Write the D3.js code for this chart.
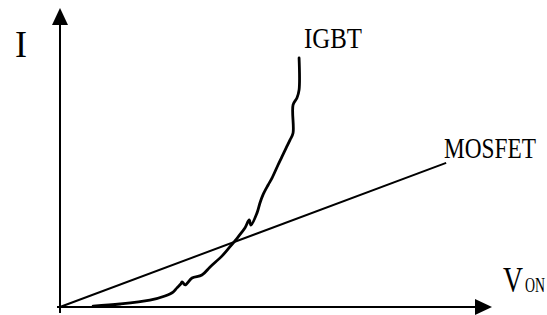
<!DOCTYPE html>
<html>
<head>
<meta charset="utf-8">
<script src="https://cdn.jsdelivr.net/npm/d3@7"></script>
<style>
  html, body { margin: 0; padding: 0; background: #fff; }
  svg { display: block; }
  text { font-family: "Liberation Serif", "DejaVu Serif", serif; fill: #000; }
</style>
</head>
<body>
<svg id="chart" width="547" height="315"></svg>
<script>
// data (arbitrary units)
var igbtV = [0.77, 1.40, 2.09, 2.44, 2.63, 2.72, 2.81, 2.84, 2.91, 3.07, 3.30, 3.49, 3.77, 3.95, 4.14, 4.30, 4.40, 4.44, 4.58, 4.65, 4.72, 4.84, 4.93, 5.07, 5.16, 5.26, 5.35, 5.42, 5.42, 5.51, 5.56, 5.56];
var igbtI = [0.03, 0.10, 0.23, 0.37, 0.50, 0.64, 0.77, 0.84, 0.74, 0.97, 1.07, 1.34, 1.71, 2.01, 2.34, 2.64, 2.91, 2.74, 3.14, 3.48, 3.75, 4.08, 4.31, 4.75, 5.02, 5.32, 5.59, 5.82, 6.76, 6.99, 7.26, 8.33];
var mosfetV = [0, 8.98];
var mosfetI = [0, 4.82];
var seriesNames = ['IGBT', 'MOSFET'];
var axisLabels = ['I', 'V', 'ON'];

var svg = d3.select('#chart');

var x = d3.scaleLinear().domain([0, 10]).range([60, 490]),
  y = d3.scaleLinear().domain([0, 10]).range([307, 8]);

var line = d3.line()
  .x(function (d) { return x(d[0]); })
  .y(function (d) { return y(d[1]); });

// Axes ----------------------- //
var x0 = x(0), y0 = y(0);
svg.append('line')
  .attr('x1', x0).attr('y1', y0 + 6)
  .attr('x2', x0).attr('y2', y(10) + 16)
  .attr('stroke', '#000').attr('stroke-width', 2);
svg.append('path')
  .attr('d', `M${x0},${y(10)} L${x0 - 8},${y(10) + 17} L${x0 + 8},${y(10) + 17} Z`)
  .attr('fill', '#000');

svg.append('line')
  .attr('x1', x0 - 3).attr('y1', y0)
  .attr('x2', x(10) - 14).attr('y2', y0)
  .attr('stroke', '#000').attr('stroke-width', 2);
svg.append('path')
  .attr('d', `M${x(10) + 2},${y0} L${x(10) - 15},${y0 - 8} L${x(10) - 15},${y0 + 8} Z`)
  .attr('fill', '#000');

// Curves ----------------------- //
var mosfet = mosfetV.map(function (v, i) { return [v, mosfetI[i]]; });
var igbt = igbtV.map(function (v, i) { return [v, igbtI[i]]; });

svg.append('path')
  .datum(mosfet)
  .attr('d', line)
  .attr('fill', 'none')
  .attr('stroke', '#000')
  .attr('stroke-width', 2);

svg.append('path')
  .datum(igbt)
  .attr('d', line.curve(d3.curveCatmullRom.alpha(0.5)))
  .attr('fill', 'none')
  .attr('stroke', '#000')
  .attr('stroke-width', 2.8)
  .attr('stroke-linejoin', 'round')
  .attr('stroke-linecap', 'round');

// Labels ----------------------- //
// squeeze each label horizontally to the narrow width seen in the picture
function label(txt, px, py, size, len) {
  var t = svg.append('text')
    .style('font-size', size + 'px')
    .text(txt);
  var w = t.node().getComputedTextLength();
  t.attr('transform', `translate(${px},${py}) scale(${len / w},1)`);
}

label(axisLabels[0], 15, 57, 37, 12);
label(seriesNames[0], 304, 48, 30, 58);
label(seriesNames[1], 444, 158, 30, 92);
label(axisLabels[1], 503, 292, 35, 20);
label(axisLabels[2], 525, 292, 20, 20);
</script>
</body>
</html>
